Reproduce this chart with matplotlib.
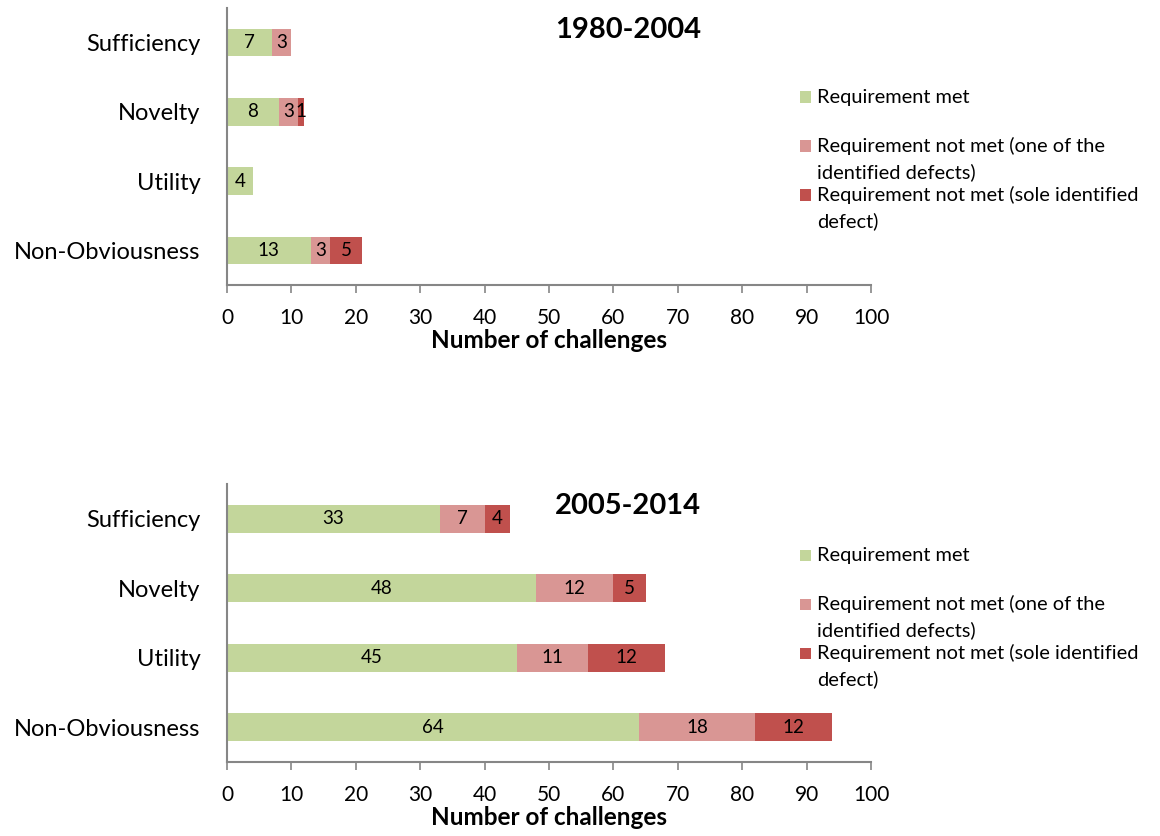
import matplotlib.pyplot as plt
import numpy as np
from matplotlib.patches import Rectangle

plt.rcParams['font.family'] = ['Lato', 'DejaVu Sans']

categories = ['Sufficiency', 'Novelty', 'Utility', 'Non-Obviousness']

# 1980-2004
met_early = [7, 8, 4, 13]
one_early = [3, 3, 0, 3]
sole_early = [0, 1, 0, 5]

# 2005-2014
met_late = [33, 48, 45, 64]
one_late = [7, 12, 11, 18]
sole_late = [4, 5, 12, 12]

titles = ['1980-2004', '2005-2014']
legend_labels = ['Requirement met',
                 'Requirement not met (one of the\nidentified defects)',
                 'Requirement not met (sole identified\ndefect)']
colors = ['#C3D69B', '#D99694', '#C0504D']
axis_grey = '#868686'

W, H = 1160, 836


def draw_legend(fig, first_line_px):
    # hand-placed legend: square beside the first line of each entry
    for k, (lab, col) in enumerate(zip(legend_labels, colors)):
        yc = first_line_px + k * 49
        fig.patches.append(Rectangle((800 / W, 1 - (yc + 5.5) / H), 11 / W, 11 / H,
                                     transform=fig.transFigure, color=col, lw=0))
        for j, line in enumerate(lab.split('\n')):
            fig.text(817 / W, 1 - (yc + j * 26) / H, line, ha='left', va='center',
                     fontsize=14.4)


def draw_panel(ax, series, title):
    y = np.arange(len(categories))[::-1]
    left = np.zeros(len(categories))
    for vals, col in zip(series, colors):
        vals = np.array(vals, dtype=float)
        ax.barh(y, vals, left=left, height=0.4, color=col, edgecolor='none')
        for yi, l, v in zip(y, left, vals):
            if v > 0:
                ax.text(l + v / 2, yi, str(int(v)), ha='center', va='center', fontsize=13.5)
        left = left + vals

    ax.set_xlim(0, 100)
    ax.set_ylim(-0.5, 3.5)
    ax.set_xticks(range(0, 101, 10))
    ax.set_yticks(y)
    ax.set_yticklabels(categories, fontsize=17)
    ax.tick_params(axis='x', labelsize=15, color=axis_grey, length=5.5, width=1.2, pad=11)
    ax.tick_params(axis='y', length=0, pad=19)
    for side in ['top', 'right']:
        ax.spines[side].set_visible(False)
    for side in ['left', 'bottom']:
        ax.spines[side].set_color(axis_grey)
        ax.spines[side].set_linewidth(1.5)
    ax.set_xlabel('Number of challenges', fontsize=17.5, fontweight='bold', labelpad=1)
    ax.text(0.623, 0.92, title, transform=ax.transAxes, ha='center', va='center',
            fontsize=21, fontweight='bold')


fig = plt.figure(figsize=(11.6, 8.36), dpi=100)
ax1 = fig.add_axes([0.1957, 1 - 285 / H, 0.5552, 277 / H])
ax2 = fig.add_axes([0.1957, 1 - 762 / H, 0.5552, 278 / H])

draw_panel(ax1, [met_early, one_early, sole_early], titles[0])
draw_panel(ax2, [met_late, one_late, sole_late], titles[1])
draw_legend(fig, 97)
draw_legend(fig, 555)

fig.savefig('out.png', dpi=100)
